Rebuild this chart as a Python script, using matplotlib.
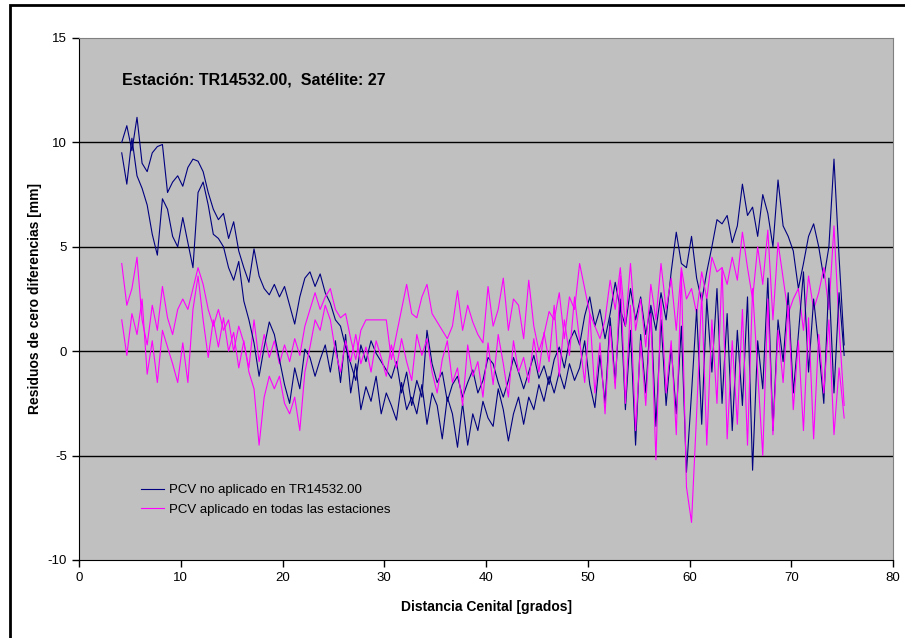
import numpy as np
import matplotlib
matplotlib.use("Agg")
import matplotlib.pyplot as plt
from matplotlib.patches import Rectangle

plt.rcParams['font.family'] = ['Liberation Sans', 'DejaVu Sans']
plt.rcParams['axes.unicode_minus'] = False

# zenith distance grid [deg], shared by all passes
zen = np.arange(4.2, 75.3, 0.5)

# PCV not applied, two passes of the satellite
nav_a = [10.0, 10.8, 9.6, 11.2, 9.0, 8.6, 9.5, 9.8, 9.9, 7.6,
         8.1, 8.4, 7.9, 8.8, 9.2, 9.1, 8.6, 7.6, 6.8, 6.3,
         6.6, 5.4, 6.2, 4.8, 4.0, 3.3, 4.9, 3.6, 3.0, 2.7,
         3.2, 2.6, 3.1, 2.2, 1.3, 2.6, 3.5, 3.8, 3.1, 3.7,
         2.8, 2.3, 1.5, 1.2, 0.2, -0.6, -1.4, 0.3, -0.5, 0.5,
         -0.1, -0.5, -0.9, -1.3, -0.5, -2.0, -1.0, -2.6, -1.4, -2.2,
         1.0, -0.6, -1.5, -1.0, -2.4, -1.6, -1.2, -2.2, -1.5, -0.9,
         -2.0, -1.4, -0.3, -0.6, -1.5, -2.2, -1.4, -0.3, -1.0, -1.8,
         -1.0, -0.2, -1.3, -0.7, -1.6, -0.4, 0.2, -0.8, 0.5, 1.0,
         0.3, 1.7, 2.6, 1.2, 2.0, 0.6, 1.8, 3.3, 2.0, 1.2,
         3.0, 1.5, 2.6, 0.8, 2.2, 1.0, 2.8, 1.5, 3.8, 5.7,
         4.2, 4.0, 5.5, 3.5, 2.4, 3.8, 5.0, 6.3, 6.1, 6.5,
         5.2, 6.0, 8.0, 6.5, 6.9, 5.5, 7.5, 6.6, 5.0, 8.2,
         6.0, 5.5, 4.8, 3.0, 4.2, 5.5, 6.1, 5.0, 3.5, 5.0,
         9.2, 4.5, 0.3]
nav_b = [9.5, 8.0, 10.2, 8.4, 7.8, 7.0, 5.6, 4.6, 7.3, 6.8,
         5.5, 5.0, 6.4, 5.2, 4.0, 7.6, 8.1, 7.0, 5.6, 5.4,
         5.0, 4.0, 3.4, 4.3, 2.4, 1.5, 0.4, -1.2, 0.2, 1.4,
         0.8, -0.4, -1.6, -2.5, -0.8, -1.8, 0.1, -0.3, -1.2, -0.4,
         0.3, -1.0, 0.5, -1.5, 0.8, -2.0, -0.6, -2.8, -1.7, -2.4,
         -1.2, -3.0, -2.0, -2.6, -3.3, -1.5, -2.8, -2.2, -3.0, -1.6,
         -3.5, -2.0, -2.6, -4.2, -2.2, -3.0, -4.6, -2.5, -4.5, -3.0,
         -3.8, -2.4, -3.2, -3.6, -1.8, -2.8, -4.3, -3.0, -2.2, -3.5,
         -2.2, -2.8, -1.6, -2.4, -1.2, -2.0, -1.0, -1.8, -0.6, -1.4,
         -0.8, 0.5, -1.6, -2.7, -0.2, -2.5, 1.6, -1.5, 2.5, -2.8,
         1.0, -4.5, 0.8, -2.0, 2.0, -3.6, 1.5, -2.6, 0.2, -3.0,
         1.2, -5.8, -2.0, 2.0, -3.5, 2.5, -1.0, 3.0, -2.5, 1.8,
         -3.8, 1.0, -2.6, 2.6, -5.7, 0.5, -1.8, 3.5, -3.8, 1.5,
         -0.5, 2.8, -2.0, 0.8, 3.8, -1.0, 2.5, 0.2, -2.5, 3.5,
         -2.0, 2.8, -0.2]

# PCV applied at all stations, two passes
mag_a = [4.2, 2.2, 3.0, 4.5, 1.5, 0.3, 2.2, 1.0, 3.1, 1.6,
         0.8, 2.0, 2.5, 2.0, 3.0, 4.0, 3.2, 2.0, 1.2, 2.0,
         1.0, 1.5, 0.0, 1.2, 0.4, -0.8, 1.5, -0.5, 0.8, -0.3,
         0.5, -0.6, 0.3, -0.5, 0.6, -0.2, 1.2, 2.0, 2.8, 2.0,
         2.6, 3.0, 2.0, 1.6, 1.8, 0.6, -0.4, 1.0, 1.5, 1.5,
         1.5, 1.5, 1.5, -0.4, 0.8, 2.0, 3.2, 1.8, 1.6, 2.6,
         3.2, 1.8, 1.4, 1.0, 0.6, 1.2, 2.9, 1.0, 2.2, 1.4,
         0.8, 0.4, 3.1, 1.2, 2.0, 3.5, 1.0, 2.5, 2.2, 0.6,
         3.4, 1.2, 0.0, 0.8, 1.9, 1.5, 2.8, 0.6, 2.6, 2.0,
         4.2, 3.0, 1.8, 1.2, 0.6, 1.5, 3.4, 2.0, 4.0, 1.2,
         4.2, 1.0, 2.5, 0.2, 3.2, 1.5, 4.2, 2.0, 3.5, 1.0,
         4.0, 2.5, 3.0, 1.8, 3.8, 2.5, 4.5, 3.8, 4.0, 3.2,
         4.5, 3.4, 5.7, 4.0, 2.5, 5.0, 3.2, 5.8, 1.5, 5.2,
         3.5, 1.8, 2.5, 3.0, 1.0, 3.6, 2.0, 2.8, 4.0, 2.0,
         6.0, 1.2, -2.6]
mag_b = [1.5, -0.2, 1.8, 0.8, 2.5, -1.1, 0.5, -1.5, 1.0, 0.2,
         -0.6, -1.5, 0.4, -1.5, 2.0, 3.6, 1.5, -0.3, 1.5, 0.2,
         1.6, 0.0, 0.9, -0.8, 0.5, -1.0, -1.8, -4.5, -2.2, -1.2,
         -1.8, -1.2, -2.5, -3.0, -2.2, -3.8, -1.0, 0.2, 1.5, 1.0,
         2.2, 1.5, 0.0, -1.0, 0.5, -0.5, 0.8, -0.6, 0.2, -1.0,
         0.5, -0.3, -1.2, 0.3, -0.8, 0.6, -0.5, -1.4, 0.8, -0.2,
         0.6, -1.0, -2.0, -0.4, 0.5, -1.5, -0.8, -2.6, 0.3, -1.2,
         -0.5, -2.2, 0.4, -1.6, 0.8, -0.6, -2.2, 0.5, -1.0, -0.3,
         -1.5, 0.6, -1.0, 0.9, -0.5, 2.2, -1.2, 1.5, -0.2, 2.6,
         0.5, -1.5, 1.8, -2.0, 0.4, -3.0, 1.2, -1.8, 3.6, -2.5,
         2.2, -3.8, 0.5, -2.6, 1.8, -5.2, 2.5, -2.0, 0.5, -4.0,
         3.8, -6.5, -8.2, -3.0, 2.8, -4.5, 1.5, -2.5, 4.0, -4.2,
         0.5, -3.5, 2.0, -4.5, 3.0, -1.0, -5.0, 2.5, -4.0, 1.0,
         -1.5, 2.2, -2.8, 0.5, -3.8, 1.6, -4.2, 0.8, -2.0, 1.5,
         -4.0, -0.8, -3.2]

NAVY = '#000080'
PINK = '#ff00ff'

fig = plt.figure(figsize=(9.05, 6.38), dpi=100)
fig.patch.set_facecolor('white')
# chart area frame (runs off the right and bottom edges)
fig.patches.append(Rectangle((10 / 905, -0.1), 1.2, 1.1 - 5 / 638,
                             transform=fig.transFigure, fill=False,
                             edgecolor='black', lw=2, clip_on=False))

ax = fig.add_axes([79 / 905, 78 / 638, 814 / 905, 522 / 638])
ax.set_facecolor('#c0c0c0')

ax.plot(zen, nav_a, color=NAVY, lw=0.8, label='PCV no aplicado en TR14532.00')
ax.plot(zen, mag_a, color=PINK, lw=0.8, label='PCV aplicado en todas las estaciones')
ax.plot(zen, nav_b, color=NAVY, lw=0.8)
ax.plot(zen, mag_b, color=PINK, lw=0.8)

ax.set_xlim(0, 80)
ax.set_ylim(-10, 15)
ax.set_xticks(range(0, 81, 10))
ax.set_yticks(range(-10, 16, 5))
for yv in (-5, 0, 5, 10):
    ax.axhline(yv, color='black', lw=1, zorder=1)

for s in ('top', 'right'):
    ax.spines[s].set_color('#808080')
for s in ('left', 'bottom'):
    ax.spines[s].set_color('black')
ax.tick_params(direction='out', length=5, width=1, labelsize=9.5, colors='black')

ax.set_xlabel('Distancia Cenital [grados]', fontsize=10, fontweight='bold', labelpad=12)
ax.set_ylabel('Residuos de cero diferencias [mm]', fontsize=10, fontweight='bold', labelpad=4)

ax.text(4.2, 13.0, 'Estación: TR14532.00,  Satélite: 27', fontsize=11.5,
        fontweight='bold', va='center', ha='left')

leg = ax.legend(loc='lower left', bbox_to_anchor=(0.062, 0.062), frameon=False,
                fontsize=9.5, handlelength=1.7, handletextpad=0.4, labelspacing=0.55)

fig.savefig('out.png', dpi=100)
